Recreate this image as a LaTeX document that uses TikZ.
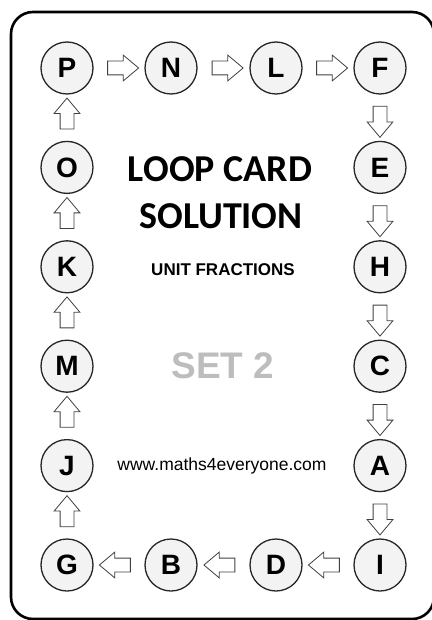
\documentclass[tikz,border=0pt]{standalone}
\usepackage{fontspec}
\setmainfont{Liberation Sans}
\newfontfamily\cardfont{Carlito}
\usetikzlibrary{shapes.arrows}

\definecolor{setgray}{HTML}{BDBDBD}
\definecolor{ballgray}{HTML}{F3F3F3}

\tikzset{
  ball/.style={circle, draw=black!85, line width=1.3pt, fill=ballgray,
    minimum size=52pt, inner sep=0pt, font=\bfseries\fontsize{28}{28}\selectfont},
  blockarrow/.style={single arrow, draw=black!75, line width=0.8pt, fill=white,
    minimum height=31pt, inner xsep=0pt, inner ysep=6.5pt, single arrow head extend=6pt,
    single arrow tip angle=80, sloped, allow upside down},
}

\begin{document}
\begin{tikzpicture}[x=1pt, y=-1pt]
  \useasboundingbox (0,0) rectangle (431,620);

  % ramecek karty
  \draw[line width=2.6pt, rounded corners=22pt] (11,12) rectangle (434,619);

  % horni rada
  \node[ball] (P) at (67,68) {P};
  \node[ball] (N) at (171,68) {N};
  \node[ball] (L) at (276,68) {L};
  \node[ball] (F) at (380,68) {F};

  % prava strana
  \node[ball] (E) at (380,167.4) {E};
  \node[ball] (H) at (380,266.8) {H};
  \node[ball] (C) at (380,366.2) {C};
  \node[ball] (A) at (380,465.6) {A};
  \node[ball] (I) at (380,565) {I};

  % dolni rada
  \node[ball] (D) at (276,565) {D};
  \node[ball] (B) at (171,565) {B};
  \node[ball] (G) at (67,565) {G};

  % leva strana
  \node[ball] (J) at (67,465.6) {J};
  \node[ball] (M) at (67,366.2) {M};
  \node[ball] (K) at (67,266.8) {K};
  \node[ball] (O) at (67,167.4) {O};

  % sipky mezi kartami
  \foreach \a/\b in {P/N, N/L, L/F, F/E, E/H, H/C, C/A, A/I,
                     I/D, D/B, B/G, G/J, J/M, M/K, K/O, O/P}{
    \path (\a) -- node[blockarrow] {} (\b);
  }

  % texty uprostred
  \node[font=\cardfont\bfseries\fontsize{38}{38}\selectfont] (title) at (220,169) {LOOP CARD};
  \node[font=\cardfont\bfseries\fontsize{38}{38}\selectfont] (sol) at (221,216) {SOLUTION};
  \node[font=\bfseries\fontsize{17}{17}\selectfont] (topic) at (223,270) {UNIT FRACTIONS};
  \node[font=\bfseries\fontsize{37}{37}\selectfont, text=setgray] (set) at (223,366) {SET 2};
  \node[font=\fontsize{17.5}{17.5}\selectfont] (web) at (222,466) {www.maths4everyone.com};
\end{tikzpicture}
\end{document}
